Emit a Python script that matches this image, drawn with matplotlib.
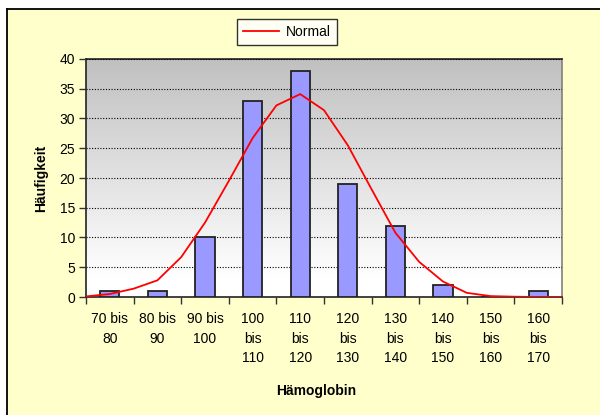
import matplotlib
matplotlib.use("Agg")
import matplotlib.pyplot as plt
import numpy as np
from matplotlib.colors import LinearSegmentedColormap
from matplotlib.patches import Rectangle
from matplotlib.lines import Line2D

plt.rcParams['font.family'] = ['Liberation Sans', 'DejaVu Sans']

categories = ["70 bis\n80", "80 bis\n90", "90 bis\n100", "100\nbis\n110", "110\nbis\n120",
              "120\nbis\n130", "130\nbis\n140", "140\nbis\n150", "150\nbis\n160", "160\nbis\n170"]
counts = [1, 1, 10, 33, 38, 19, 12, 2, 0, 1]

# Normal curve (hemoglobin value -> frequency)
curve_hb = [70, 75, 80, 85, 90, 95, 100, 105, 110, 115, 120, 125, 130, 135, 140, 145, 150, 155, 160, 165, 170]
curve_val = [0.1, 0.5, 1.4, 2.8, 6.7, 12.5, 19.5, 26.7, 32.2, 34.1, 31.4, 25.5, 18.1, 10.8, 5.9, 2.6, 0.7, 0.15, 0.05, 0.0, 0.0]

W, H = 600, 415
fig = plt.figure(figsize=(W / 100, H / 100), dpi=100)
fig.patch.set_facecolor('white')

# yellow chart area with left/top border
fig.patches.append(Rectangle((7 / W, 0), 1.0, 1 - 9 / H, transform=fig.transFigure,
                             facecolor='#FFFFCC', edgecolor='none', zorder=-2))
fig.lines.append(Line2D([7 / W, 7 / W], [0, 1 - 9 / H], transform=fig.transFigure, color='black', lw=1.3, zorder=-1))
fig.lines.append(Line2D([7 / W, 1], [1 - 9 / H, 1 - 9 / H], transform=fig.transFigure, color='black', lw=1.3, zorder=-1))

ax = fig.add_axes([86 / W, 1 - 297 / H, 476 / W, 238 / H])
ax.set_zorder(2)
ax.set_facecolor('none')

x = np.arange(len(categories))
ax.set_xlim(-0.5, len(categories) - 0.5)
ax.set_ylim(0, 40)

# gradient background
cmap = LinearSegmentedColormap.from_list('g', [(0.0, '#FFFFFF'), (0.08, '#FFFFFF'), (1.0, '#C0C0C0')], N=256)
grad = np.linspace(0, 1, 256).reshape(-1, 1)
ax.imshow(grad, extent=[-0.5, len(categories) - 0.5, 0, 40], origin='lower',
          aspect='auto', cmap=cmap, zorder=0)

ax.bar(x, counts, width=0.4, color='#9999FF', edgecolor='#222222', linewidth=1.3, zorder=3)

cx = [(h - 70) / 10 - 0.5 for h in curve_hb]
ax.plot(cx, curve_val, color='#FF0000', lw=1.3, zorder=4, label='Normal')

ax.set_yticks(np.arange(0, 41, 5))
ax.yaxis.grid(True, color='black', linestyle=(0, (1, 1.5)), linewidth=0.8, zorder=1)
ax.set_axisbelow(False)
for gl in ax.get_ygridlines():
    gl.set_zorder(1)

ax.set_xticks(x)
ax.set_xticklabels(categories, linespacing=1.5)
ax.set_xticks(np.arange(-0.5, len(categories), 1.0), minor=True)
ax.tick_params(axis='x', which='major', length=0, pad=11, labelsize=10)
ax.tick_params(axis='x', which='minor', length=5, width=1, color='#333333', direction='out')
ax.tick_params(axis='y', length=5, width=1, color='#333333', labelsize=10, pad=3)

for s in ['left', 'bottom', 'top']:
    ax.spines[s].set_color('#222222')
    ax.spines[s].set_linewidth(1.2)
ax.spines['right'].set_color('#808080')
ax.spines['right'].set_linewidth(1.2)

ax.set_xlabel('Hämoglobin', fontsize=10, fontweight='bold')
ax.xaxis.set_label_coords(0.483, -0.365)
ax.set_ylabel('Häufigkeit', fontsize=10, fontweight='bold', labelpad=8)

leg = fig.legend(loc='center', bbox_to_anchor=(287 / W, 1 - 32 / H), frameon=True,
                 fancybox=False, fontsize=10, handlelength=2.6, handletextpad=0.5,
                 borderpad=0.45)
leg.get_frame().set_edgecolor('black')
leg.get_frame().set_linewidth(1.0)
leg.get_frame().set_facecolor('white')

fig.savefig('out.png', dpi=100)
